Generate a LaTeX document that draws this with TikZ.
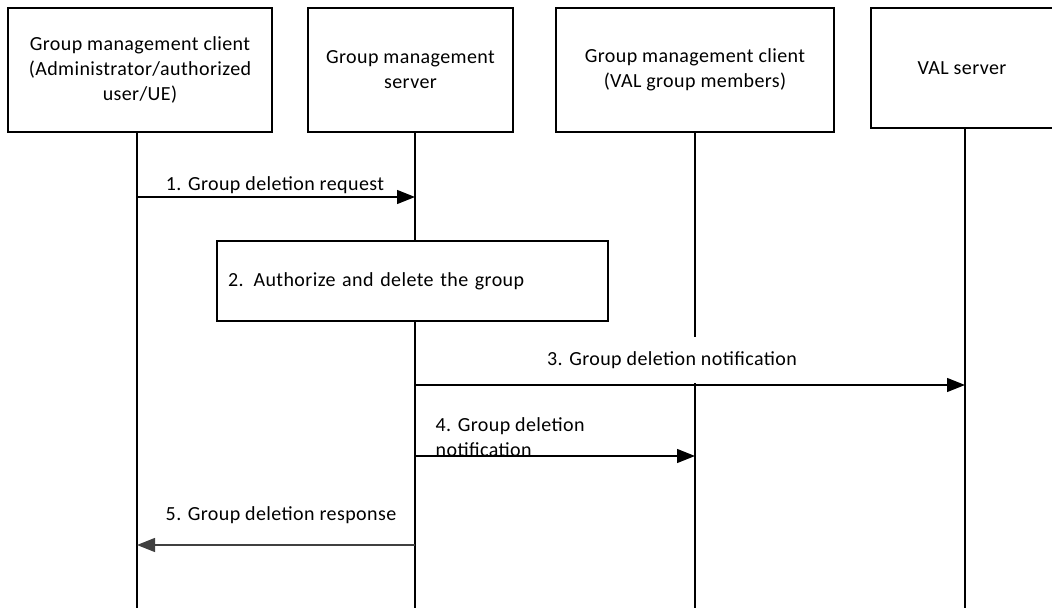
\documentclass[tikz,border=0pt]{standalone}
\usepackage{fontspec}
\setmainfont{Carlito}[LetterSpace=2]
\usetikzlibrary{arrows.meta}

\begin{document}
\begin{tikzpicture}[x=0.5pt, y=-0.5pt, line width=0.7pt,
    every node/.style={font=\fontsize{10}{12.5}\selectfont},
    entity/.style={draw, align=center, minimum height=62pt},
    msg/.style={-{Triangle[length=9pt, width=7pt]}}]
  \useasboundingbox (0,0) rectangle (1052,608);
  % participants
  \node[entity, minimum width=132pt] (gmcA) at (140,70) {Group management client\\(Administrator/authorized\\user/UE)};
  \node[entity, minimum width=102.5pt] (gms) at (410.5,70) {Group management\\server};
  \node[entity, minimum width=139pt] (gmcM) at (695,70) {Group management client\\(VAL group members)};
  \node[entity, minimum width=91pt, minimum height=60pt] (val) at (962,68) {VAL server};
  % lifeline ends
  \coordinate (endA) at (137,608);
  \coordinate (endS) at (415,608);
  \coordinate (endM) at (695,608);
  \coordinate (endV) at (965,608);
  % step 2
  \node[draw, text width=184.5pt, inner xsep=5.5pt, minimum height=40pt, align=left] (auth) at (412.5,281) {2. Authorize and delete the group};
  % lifelines
  \draw (gmcA.south -| endA) -- (endA);
  \draw (gms.south -| endS) -- (auth.north -| endS);
  \draw (auth.south -| endS) -- (endS);
  \draw (gmcM.south -| endM) -- (695,337);
  \draw (695,383) -- (endM);
  \draw (val.south -| endV) -- (endV);
  % messages
  \coordinate (m1a) at (137,197);
  \coordinate (m1b) at (415,197);
  \draw[msg] (m1a) -- (m1b);
  \node (l1) at (275,185) {1. Group deletion request};
  \coordinate (m3a) at (415,385);
  \coordinate (m3b) at (965,385);
  \draw[msg] (m3a) -- (m3b);
  \node (l3) at (672,360) {3. Group deletion notification};
  \coordinate (m4a) at (415,456);
  \coordinate (m4b) at (695,456);
  \draw[msg] (m4a) -- (m4b);
  \node[anchor=west, align=left, inner xsep=0pt] (l4) at (435,437) {4. Group deletion\\notification};
  \coordinate (m5a) at (415,545);
  \coordinate (m5b) at (137,545);
  \draw[msg, black!75] (m5a) -- (m5b);
  \node (l5) at (281,515) {5. Group deletion response};
\end{tikzpicture}
\end{document}
